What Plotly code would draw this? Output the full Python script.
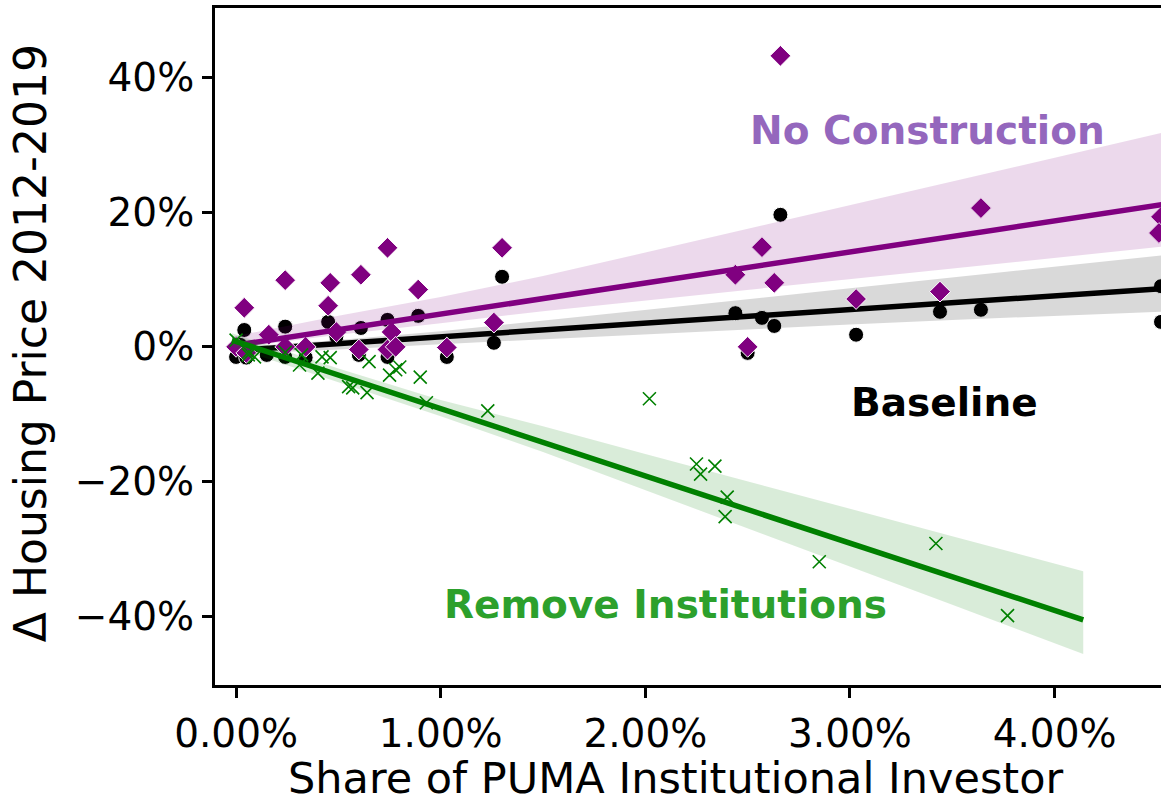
import plotly.graph_objects as go

# Share of PUMA owned by institutional investors (%) and simulated price change (%)
base_x = [0.00, 0.02, 0.04, 0.05, 0.15, 0.24, 0.24, 0.34, 0.45, 0.49, 0.60, 0.61, 0.74, 0.74,
          0.89, 1.03, 1.26, 1.30, 2.44, 2.50, 2.57, 2.63, 2.66, 3.03, 3.44, 3.64, 4.52, 4.52]
base_y = [-1.5, 0.3, 2.5, -1.6, -1.2, 3.0, -1.5, -1.6, 3.7, 1.5, -1.2, 2.8, 4.0, -1.5,
          4.6, -1.5, 0.6, 10.4, 5.0, -0.9, 4.3, 3.1, 19.6, 1.8, 5.2, 5.5, 9.0, 3.7]

nocon_x = [0.00, 0.05, 0.04, 0.16, 0.24, 0.24, 0.34, 0.45, 0.46, 0.49, 0.60, 0.61, 0.74, 0.74,
           0.76, 0.78, 0.89, 1.03, 1.26, 1.30, 2.44, 2.50, 2.57, 2.63, 2.66, 3.03, 3.44, 3.64,
           4.52, 4.51]
nocon_y = [0.0, -0.9, 5.8, 1.8, 9.9, 0.0, 0.0, 6.1, 9.5, 2.2, -0.4, 10.7, 14.7, -0.4,
           2.2, 0.0, 8.5, -0.1, 3.6, 14.7, 10.7, 0.0, 14.8, 9.5, 43.2, 7.1, 8.2, 20.6,
           19.3, 16.9]

remove_x = [0.00, 0.06, 0.06, 0.09, 0.24, 0.31, 0.32, 0.40, 0.42, 0.46, 0.55, 0.57, 0.64, 0.65,
            0.75, 0.78, 0.80, 0.90, 0.93, 1.23, 2.02, 2.25, 2.27, 2.34, 2.40, 2.39, 2.85, 3.42,
            3.77]
remove_y = [1.0, -1.2, -0.8, -1.5, -0.8, -2.7, -1.2, -3.9, -1.5, -1.6, -5.9, -6.1, -6.8, -2.2,
            -4.2, -3.4, -3.0, -4.5, -8.3, -9.5, -7.7, -17.4, -18.9, -17.7, -22.3, -25.2, -31.9,
            -29.2, -39.9]

# Fitted regression lines (end points)
base_fit_x = [-0.02, 4.60]
base_fit_y = [-0.59, 8.79]
nocon_fit_x = [-0.02, 4.60]
nocon_fit_y = [0.16, 21.46]
remove_fit_x = [-0.02, 4.14]
remove_fit_y = [1.00, -40.52]

# Confidence bands of the fits
band_x = [-0.02, 0.5, 1.0, 1.5, 2.0, 2.5, 3.0, 3.5, 4.0, 4.6]
base_hi = [-0.1, 1.0, 2.3, 3.85, 5.45, 7.05, 8.7, 10.3, 11.9, 13.8]
base_lo = [-1.1, -0.4, 0.4, 1.1, 1.8, 2.6, 3.3, 4.0, 4.6, 5.3]
nocon_hi = [1.5, 4.6, 7.4, 10.5, 14.0, 17.5, 21.0, 24.6, 28.1, 32.3]
nocon_lo = [-0.2, 1.8, 3.5, 5.3, 6.9, 8.5, 10.1, 11.6, 13.2, 15.1]
remove_band_x = [-0.02, 0.5, 1.0, 1.5, 2.0, 2.5, 3.0, 3.5, 4.14]
remove_hi = [2.0, -3.2, -7.9, -11.8, -15.9, -20.0, -24.0, -28.1, -33.3]
remove_lo = [0.0, -5.2, -10.3, -15.6, -21.2, -26.9, -32.6, -38.3, -45.6]

x_ticks = [0, 1, 2, 3, 4]
x_tick_text = ["0.00%", "1.00%", "2.00%", "3.00%", "4.00%"]
y_ticks = [-40, -20, 0, 20, 40]
y_tick_text = ["\u221240%", "\u221220%", "0%", "20%", "40%"]

FONT = "DejaVu Sans"

fig = go.Figure()


def add_group(x, y, fx, fy, bx, lo, hi, color, band_rgba, marker):
    fig.add_trace(go.Scatter(x=x, y=y, mode="markers", marker=marker,
                             showlegend=False, hoverinfo="skip"))
    fig.add_trace(go.Scatter(x=list(bx) + list(bx)[::-1], y=list(hi) + list(lo)[::-1],
                             mode="lines", fill="toself", fillcolor=band_rgba,
                             line=dict(width=0), showlegend=False, hoverinfo="skip"))
    fig.add_trace(go.Scatter(x=fx, y=fy, mode="lines", line=dict(color=color, width=5.5),
                             showlegend=False, hoverinfo="skip"))


add_group(base_x, base_y, base_fit_x, base_fit_y, band_x, base_lo, base_hi,
          "black", "rgba(0,0,0,0.15)",
          dict(symbol="circle", size=15, color="black", line=dict(color="white", width=1)))
add_group(nocon_x, nocon_y, nocon_fit_x, nocon_fit_y, band_x, nocon_lo, nocon_hi,
          "#800080", "rgba(128,0,128,0.15)",
          dict(symbol="diamond", size=16, color="#800080", line=dict(color="white", width=1)))
add_group(remove_x, remove_y, remove_fit_x, remove_fit_y, remove_band_x, remove_lo, remove_hi,
          "#008000", "rgba(0,128,0,0.15)",
          dict(symbol="x-thin", size=13, color="#008000", line=dict(color="#008000", width=1.6)))

labels = [
    ("No Construction", 3.38, 32.1, "#9467bd"),
    ("Baseline", 3.46, -8.3, "black"),
    ("Remove Institutions", 2.10, -38.3, "#2ca02c"),
]
for text, lx, ly, col in labels:
    fig.add_annotation(x=lx, y=ly, text=f"<b>{text}</b>", showarrow=False,
                       font=dict(family=FONT, size=39, color=col),
                       xanchor="center", yanchor="middle")

# Axis titles
fig.add_annotation(xref="paper", yref="paper", x=0.4873, y=-0.1374,
                   text="Share of PUMA Institutional Investor", showarrow=False,
                   font=dict(family=FONT, size=43, color="black"),
                   xanchor="center", yanchor="middle")
fig.add_annotation(xref="paper", yref="paper", x=-0.1955, y=0.505,
                   text="Δ Housing Price 2012-2019", showarrow=False, textangle=-90,
                   font=dict(family=FONT, size=44, color="black"),
                   xanchor="center", yanchor="middle")

fig.update_layout(
    width=1161, height=802,
    margin=dict(l=215, r=0, t=8, b=117),
    paper_bgcolor="white", plot_bgcolor="white",
    font=dict(family=FONT, color="black"),
    xaxis=dict(
        range=[-0.103, 4.52], tickmode="array", tickvals=x_ticks, ticktext=x_tick_text,
        showgrid=False, zeroline=False, showline=True, linecolor="black", linewidth=3,
        mirror=True, ticks="outside", ticklen=10, tickwidth=2.5, tickcolor="black",
        ticklabelstandoff=2,
        tickfont=dict(family=FONT, size=39, color="black"),
    ),
    yaxis=dict(
        range=[-50.2, 50.3], tickmode="array", tickvals=y_ticks, ticktext=y_tick_text,
        showgrid=False, zeroline=False, showline=True, linecolor="black", linewidth=3,
        ticks="outside", ticklen=10, tickwidth=2.5, tickcolor="black",
        tickfont=dict(family=FONT, size=39, color="black"),
    ),
)

fig.write_html("out.html")
